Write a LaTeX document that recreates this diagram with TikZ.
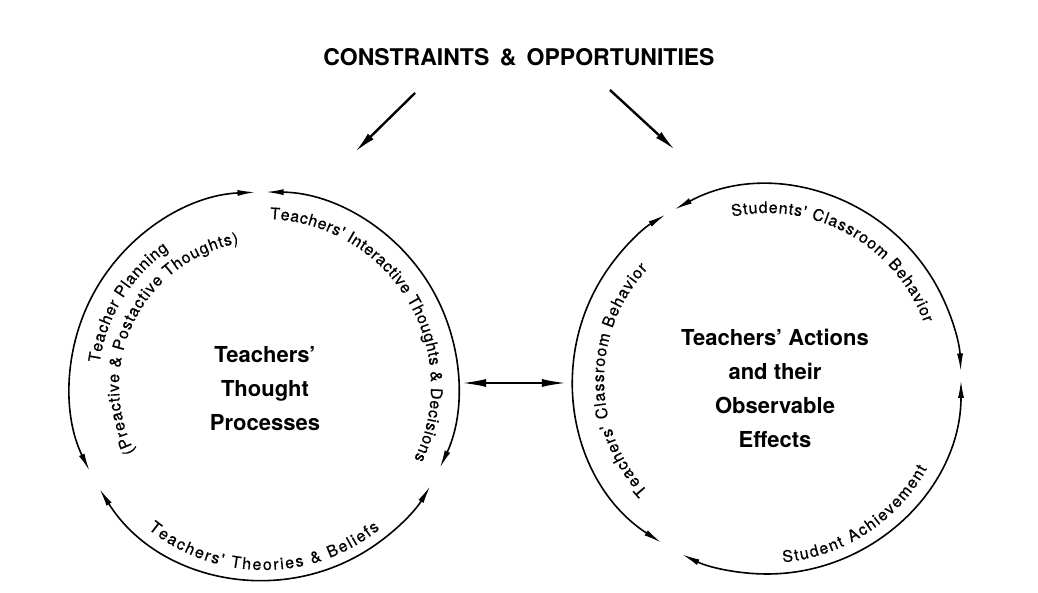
\documentclass[tikz,border=0pt]{standalone}
\usepackage{fontspec}
\setmainfont{TeX Gyre Heros}
\newfontfamily\arcfamily[FakeBold=0.5]{TeX Gyre Heros}
\usetikzlibrary{arrows.meta,decorations.text}

\newcommand{\arcfont}{\arcfamily\fontsize{16}{18}\selectfont}

\begin{document}
\begin{tikzpicture}[
		x=1pt, y=1pt,
		ring/.style={circle, minimum size=388pt, inner sep=0pt},
		rim/.style={line width=1.6pt, {Latex[length=18pt,width=6pt]}-{Latex[length=18pt,width=6pt]}},
		feed/.style={line width=2.4pt, -{Latex[length=22pt,width=8pt]}},
		link/.style={line width=2.6pt, {Latex[length=26pt,width=8pt]}-{Latex[length=26pt,width=8pt]}},
		hub/.style={font=\fontsize{22}{34}\selectfont\bfseries, align=center},
		along/.style={decorate, decoration={text along path, text align={fit to path}, text={|\arcfont|#1}}}
		]
		\useasboundingbox (0,0) rectangle (1038,593);
		\node[font=\fontsize{23}{28}\selectfont\bfseries] (title) at (519,536)
			{CONSTRAINTS\hspace{0.45em}\&\hspace{0.45em}OPPORTUNITIES};
		
		% the two circles
		\node[ring] (think) at (264,207) {};
		\node[ring] (act) at (767,213) {};
		\node[hub] (thinktext) at (265,204) {Teachers'\\Thought\\Processes};
		\node[hub] (acttext) at (775,205) {Teachers' Actions\\and their\\Observable\\Effects};
		
		% arcs of the left circle
		\draw[rim] ([shift={(92.5:194pt)}]think.center) arc[start angle=92.5, end angle=206, radius=194pt];
		\draw[rim] ([shift={(89.5:194pt)}]think.center) arc[start angle=89.5, end angle=-25, radius=194pt];
		\draw[rim] ([shift={(212:194pt)}]think.center) arc[start angle=212, end angle=329, radius=194pt];
		
		% arcs of the right circle
		\draw[rim] ([shift={(118.5:194pt)}]act.center) arc[start angle=118.5, end angle=2.5, radius=194pt];
		\draw[rim] ([shift={(0:194pt)}]act.center) arc[start angle=0, end angle=-116, radius=194pt];
		\draw[rim] ([shift={(237:194pt)}]act.center) arc[start angle=237, end angle=121.5, radius=194pt];
		
		% labels round the left circle
		\path[along={Teachers' Interactive Thoughts {\&} Decisions}]
			([shift={(88:167pt)}]think.center) arc[start angle=88, end angle=-26, radius=167pt];
		\path[along={Teacher Planning}]
			([shift={(172:166pt)}]think.center) arc[start angle=172, end angle=125, radius=166pt];
		\path[along={(Preactive {\&} Postactive Thoughts)}]
			([shift={(207:145pt)}]think.center) arc[start angle=207, end angle=100, radius=145pt];
		\path[along={Teachers' Theories {\&} Beliefs}]
			([shift={(231:184pt)}]think.center) arc[start angle=231, end angle=309, radius=184pt];
		
		% labels round the right circle
		\path[along={Students' Classroom Behavior}]
			([shift={(102:167pt)}]act.center) arc[start angle=102, end angle=20, radius=167pt];
		\path[along={Teachers' Classroom Behavior}]
			([shift={(223:163pt)}]act.center) arc[start angle=223, end angle=137, radius=163pt];
		\path[along={Student Achievement}]
			([shift={(275:183pt)}]act.center) arc[start angle=275, end angle=331, radius=183pt];
		
		% arrows from the title and between the circles
		\coordinate (cl) at (415,500);
		\coordinate (tl) at (355,441);
		\coordinate (cr) at (610,503);
		\coordinate (tr) at (675,443);
		\draw[feed] (cl) -- (tl);
		\draw[feed] (cr) -- (tr);
		\draw[link] ([shift={(2pt,3pt)}]think.east) -- ([shift={(-5pt,3pt)}]think.east -| act.west);
	\end{tikzpicture}
\end{document}
